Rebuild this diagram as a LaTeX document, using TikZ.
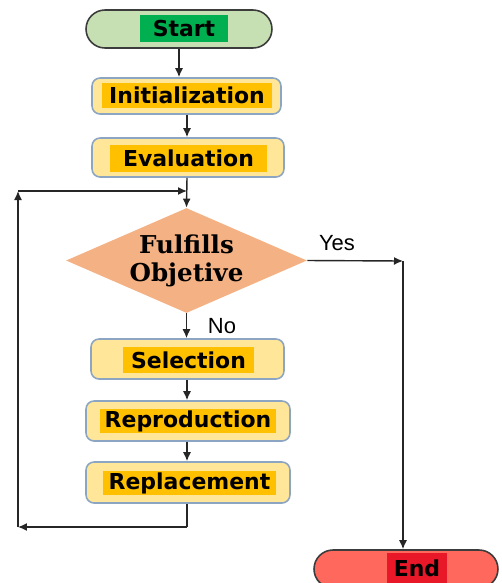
\documentclass[tikz,border=0pt]{standalone}
\usepackage{fontspec}
\usepackage{tikz}
\usetikzlibrary{arrows.meta}
\usetikzlibrary{shapes.geometric}
\newfontfamily\boxfont{DejaVu Sans}
\newfontfamily\diafont{DejaVu Serif}
\newfontfamily\lblfont{Liberation Sans}
\definecolor{startfill}{RGB}{198,224,180}
\definecolor{hlgreen}{RGB}{0,176,80}
\definecolor{boxfill}{RGB}{255,230,153}
\definecolor{boxline}{RGB}{140,165,195}
\definecolor{hlyellow}{RGB}{255,192,0}
\definecolor{diafill}{RGB}{244,177,131}
\definecolor{endfill}{RGB}{255,104,92}
\definecolor{hlred}{RGB}{232,24,40}
\definecolor{termline}{RGB}{60,60,60}
\tikzset{
	terminal/.style = {draw=termline, line width=0.9pt, rounded corners=0.38cm,
	                   minimum width=#1, minimum height=0.76cm, inner sep=0pt},
	stepbox/.style = {draw=boxline, line width=0.9pt, fill=boxfill, rounded corners=0.16cm,
	                  minimum width=#1, minimum height=0.8cm, inner sep=0pt},
	hl/.style = {fill=#1, inner sep=0pt, minimum height=0.5cm,
	             font=\boxfont\bfseries\fontsize{12.5}{14}\selectfont},
	flow/.style = {draw=black!85, line width=0.8pt, -{Latex[length=1.8mm,width=1.6mm]}},
}
\begin{document}
\begin{tikzpicture}[x=0.02cm, y=-0.02cm]
		\useasboundingbox (0,0) rectangle (502,583);
		% boxes
		\node [terminal=3.72cm, fill=startfill] (start) at (179, 29) {};
		\node [stepbox=3.78cm, minimum height=0.72cm] (init) at (186.5, 96) {};
		\node [stepbox=3.84cm, minimum height=0.78cm] (eval) at (188, 157.5) {};
		\node [diamond, aspect=2.3, fill=diafill, minimum width=4.82cm, minimum height=2.1cm, inner sep=0pt,
		       align=center, font=\diafont\bfseries\fontsize{14}{16}\selectfont] (obj) at (186.5, 260.5) {Fulfills\\Objetive};
		\node [stepbox=3.86cm] (sel) at (187.5, 359) {};
		\node [stepbox=4.08cm] (repro) at (188, 421) {};
		\node [stepbox=4.08cm, minimum height=0.82cm] (repl) at (188, 482.5) {};
		\node [terminal=3.68cm, fill=endfill] (end) at (406, 569) {};
		% highlighted texts
		\node [hl=hlgreen, minimum width=1.76cm, minimum height=0.54cm] (startT) at (184, 28.5) {Start};
		\node [hl=hlyellow, minimum width=3.4cm] (initT) at (187, 95.5) {Initialization};
		\node [hl=hlyellow, minimum width=3.14cm, minimum height=0.54cm] (evalT) at (188.5, 158.5) {Evaluation};
		\node [hl=hlyellow, minimum width=2.62cm, minimum height=0.52cm] (selT) at (188.5, 360) {Selection};
		\node [hl=hlyellow, minimum width=3.52cm, minimum height=0.48cm] (reproT) at (188, 421) {Reproduction};
		\node [hl=hlyellow, minimum width=3.46cm, minimum height=0.48cm] (replT) at (189.5, 483) {Replacement};
		\node [hl=hlred, minimum width=1.2cm, minimum height=0.6cm] (endT) at (417, 568) {End};
		% labels
		\node [font=\lblfont\fontsize{12.5}{14}\selectfont] (yes) at (337, 243) {Yes};
		\node [font=\lblfont\fontsize{12.5}{14}\selectfont] (no) at (222, 326) {No};
		% corners
		\coordinate (join) at (187, 191);
		\coordinate (fbDown) at (187, 527);
		\coordinate (fbLeft) at (18, 527);
		\coordinate (fbTop) at (18, 191);
		\coordinate (yesTurn) at (403, 261);
		% connectors
		\draw [flow] (start.south) to (start.south |- init.north);
		\draw [flow] (eval.south -| join) to (obj.north);
		\draw [flow] (init.south -| join) to (join |- eval.north);
		\draw [flow] (obj.south) to (obj.south |- sel.north);
		\draw [flow] (sel.south -| join) to (join |- repro.north);
		\draw [flow] (repro.south -| join) to (join |- repl.north);
		\draw [flow, -] (repl.south -| fbDown) to (fbDown);
		\draw [flow] (fbDown) to (fbLeft);
		\draw [flow] (fbLeft) to (fbTop);
		\draw [flow] (fbTop) to (join);
		\draw [flow] (obj.east) to (yesTurn);
		\draw [flow] (yesTurn) to (yesTurn |- end.north);
\end{tikzpicture}
\end{document}
